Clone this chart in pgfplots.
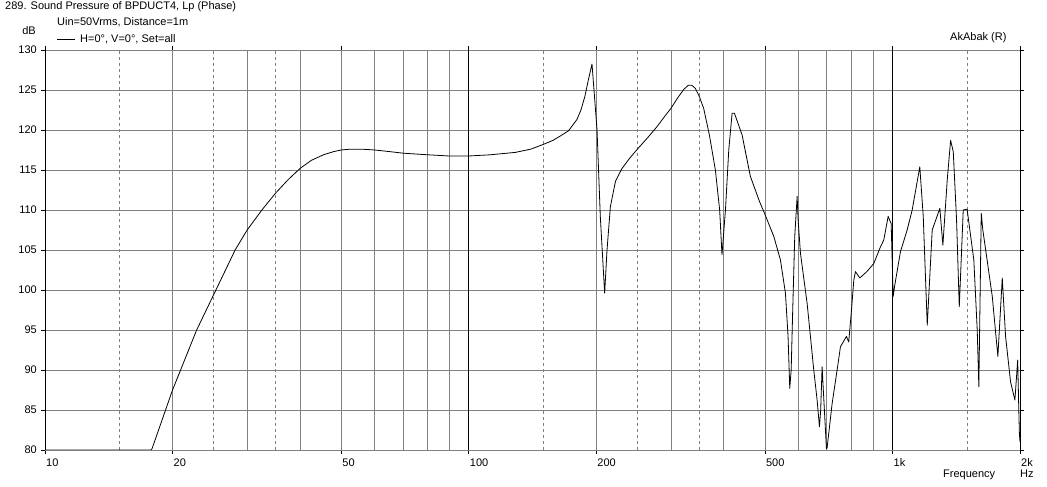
\documentclass[border=0pt]{standalone}
\usepackage{fontspec}
\setmainfont{Liberation Sans}
\usepackage{pgfplots}
\pgfplotsset{compat=1.18}
\definecolor{gridgray}{RGB}{128,128,128}
\newcommand{\lbl}{\fontsize{11bp}{13bp}\selectfont}
\begin{document}
\begin{tikzpicture}[x=1bp,y=1bp,font=\lbl]
\useasboundingbox (0,0) rectangle (1047,487);
\begin{axis}[
  at={(45bp,37bp)}, anchor=south west,
  scale only axis, width=975bp, height=400bp,
  xmode=log, xmin=10, xmax=2000, ymin=80, ymax=130,
  xtick={10,20,50,100,200,500,1000,2000},
  xticklabels={10,20,50,100,200,500,1k,2k},
  minor xtick={30,40,60,70,80,90,300,400,600,700,800,900},
  extra x ticks={15,25,35,150,250,350,1500},
  extra x tick labels={},
  extra x tick style={major tick length=0pt, major grid style={gridgray, line width=0.8bp, dash pattern=on 3bp off 3bp}},
  ytick={80,85,90,95,100,105,110,115,120,125,130},
  yticklabels={80,85,90,95,100,105,110,115,120,125,130},
  xmajorgrids, xminorgrids, ymajorgrids,
  major grid style={gridgray, line width=0.8bp},
  minor grid style={gridgray, line width=0.8bp},
  separate axis lines,
  x axis line style={gridgray, line width=0.8bp},
  y axis line style={black, line width=0.8bp},
  tick style={black, line width=0.8bp},
  tick align=outside, major tick length=4bp, minor tick length=0pt,
  xticklabel style={font=\lbl, anchor=base west, inner sep=0pt, xshift=1bp, yshift=-13bp},
  yticklabel style={font=\lbl, anchor=base east, inner sep=0pt, xshift=-4bp, yshift=-4bp},
]
\draw[black, line width=0.8bp] (axis cs:100,80) -- (axis cs:100,130);
\draw[black, line width=0.8bp] (axis cs:1000,80) -- (axis cs:1000,130);
\addplot[black, line width=0.8bp, line join=round] coordinates {
(10,80) (17.8,80) (17.9,80.2) (20.0,87.5) (22.8,95.0) (25.0,99.4) (28.1,105.0)
(30.0,107.5) (32.5,110.0) (35.0,112.1) (37.5,113.8) (40.0,115.2) (42.5,116.2)
(45.4,116.9) (48,117.3) (50.0,117.5) (52.5,117.6) (56,117.6) (60.0,117.5)
(65,117.3) (70.0,117.1) (80.0,116.9) (90.0,116.75) (100,116.75)
(112.4,116.9) (128.8,117.2) (140,117.6) (150,118.2) (158,118.7) (164.5,119.25)
(172,119.9) (180,121.3) (184,122.5) (188,124.2) (192,126.5) (195.4,128.25)
(200.8,120) (204.4,109.2) (209.3,99.6) (212,105) (215.9,110.4) (222,113.6)
(230,115.2) (240,116.5) (250,117.6) (265,119.1) (278,120.4) (290,121.7)
(300,122.7) (312,124.1) (322,125.1) (330,125.6) (336,125.6) (342.6,125.2)
(350,124.2) (358.5,122.7) (370,119.3) (382,115) (391,110) (396,104.4)
(403.5,110) (410.8,117.5) (418.4,122.1) (423.6,122.1) (441.6,119.4) (462,114.2)
(486,111.0) (497,109.8) (524.7,106.7) (544,103.75) (559,99.6) (567,94.2)
(572.3,87.7) (576.7,90) (581.8,97.9) (588,106.7) (595.7,111.7) (598.9,108.75)
(606.5,104.6) (629,98.3) (652,90) (664,86.25) (672.5,82.9) (677,85) (682.3,90.4)
(686,88) (690.8,85) (698.4,80.2) (700.8,80.2) (720.4,85.8) (740.3,90) (753.8,92.9)
(778.8,94.2) (788.6,93.5) (800.3,97.5) (810.5,101.25) (817.8,102.3) (837.3,101.5)
(870,102.3) (903.3,103.3) (936.9,105.4) (953.9,106.25) (976.8,109.2) (992.9,108.3)
(998.4,103.75) (1003.7,99.2) (1012.5,100.6) (1044.5,104.8) (1083,107.5)
(1113,110) (1160,115.4) (1182,109.2) (1208,95.6) (1241,107.5) (1293.6,110.2)
(1315,105.6) (1346.6,113.75) (1371.3,118.7) (1391.4,117.3) (1416.6,108.75)
(1437.6,97.9) (1469,110) (1500,110.1) (1556,103.75) (1585,95) (1599,87.9)
(1620,109.6) (1634,107.5) (1720,99.2) (1773,91.7) (1816,101.5) (1849,94.2)
(1900,88.5) (1945,86.25) (1970,90.4) (1975,91.25) (1986,85.4) (1993,82.1)
(2000,81)
};
\end{axis}
\node[anchor=base west, inner sep=0pt] at (5,477) {289. Sound Pressure of BPDUCT4, Lp (Phase)};
\node[anchor=base west, inner sep=0pt] at (57,461) {Uin=50Vrms, Distance=1m};
\node[anchor=base east, inner sep=0pt] at (36,452) {dB};
\draw[black, line width=0.8bp] (57,448) -- (75,448);
\node[anchor=base west, inner sep=0pt] at (80,444) {H=0°, V=0°, Set=all};
\node[anchor=base west, inner sep=0pt] at (950,446) {AkAbak (R)};
\node[anchor=base west, inner sep=0pt] at (943,9) {Frequency};
\node[anchor=base west, inner sep=0pt] at (1020,9) {Hz};
\end{tikzpicture}
\end{document}
